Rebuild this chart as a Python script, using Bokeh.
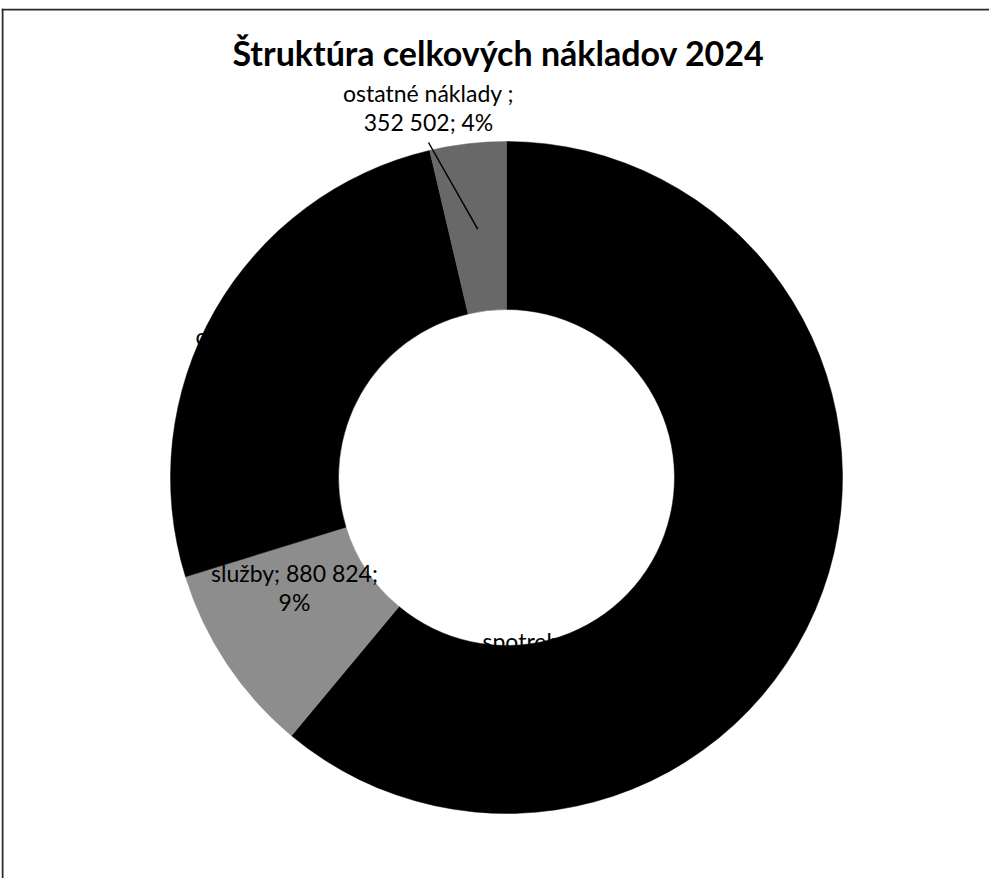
import math
from bokeh.plotting import figure
from bokeh.models import Range1d, Span, ColumnDataSource
from bokeh.core.properties import value
from bokeh.embed import file_html
from bokeh.resources import INLINE

# ---- data ----
title_text = "Štruktúra celkových nákladov 2024"
categories = ["spotreba materiálu a energie", "služby", "osobné náklady", "ostatné náklady "]
values = [5861000, 880824, 2506000, 352502]
colors = ["#000000", "#8d8d8d", "#000000", "#686868"]

# ---- derived ----
total = float(sum(values))
fracs = [v / total for v in values]
pcts = [round(f * 100) for f in fracs]


def fmt(v):
    return f"{v:,}".replace(",", " ")


# clockwise from 12 o'clock, as in the original
theta0, theta1 = [], []
acc = 0.0
for f in fracs:
    theta0.append(acc)
    acc += f * 2 * math.pi
    theta1.append(acc)
start_angle = [math.pi / 2 - t for t in theta1]
end_angle = [math.pi / 2 - t for t in theta0]

R_OUT = 336
R_IN = 168

# page geometry (pixel = data unit); donut centre at page (514, 485)
W, H = 989, 878
ML, MT = 1, 8
CX, CY = 514, 485
fx0, fy0 = 8 + ML, 8 + MT
fx1, fy1 = 8 + W, 8 + H

p = figure(width=W, height=H, output_backend="svg", toolbar_location=None,
           x_range=Range1d(fx0 - CX, fx1 - CX), y_range=Range1d(CY - fy1, CY - fy0),
           min_border_left=ML, min_border_top=MT, min_border_right=0, min_border_bottom=0)
p.axis.visible = False
p.grid.visible = False
p.outline_line_color = None
p.background_fill_color = "white"
p.border_fill_color = "white"

src = ColumnDataSource(dict(cat=categories, val=values, start=start_angle, end=end_angle, color=colors))
p.annular_wedge(x=0, y=0, inner_radius=R_IN, outer_radius=R_OUT,
                start_angle="start", end_angle="end", fill_color="color",
                line_color="color", line_width=0.5, source=src)

# frame lines (left & top visible in the scan)
p.add_layout(Span(location=fx0 - CX + 1, dimension="height", line_color="#2a2a2a", line_width=2))
p.add_layout(Span(location=CY - fy0 - 1, dimension="width", line_color="#2a2a2a", line_width=2))

FONT = value("Lato")

# title
p.text(x=[-8], y=[CY - 60], text=[title_text], text_font=FONT, text_font_size="34px",
       text_font_style="bold", text_align="center", text_baseline="middle", text_color="black")

# data labels: text built from the data, positions are layout
label_lines = {
    0: [f"{categories[0]};", f"{fmt(values[0])}; {pcts[0]}%"],
    1: [f"{categories[1]}; {fmt(values[1])};", f"{pcts[1]}%"],
    2: [f"{categories[2]};", f"{fmt(values[2])}; {pcts[2]}%"],
    3: [f"{categories[3]};", f"{fmt(values[3])}; {pcts[3]}%"],
}
# (page x, page y of first line centre, align)
label_layout = {
    0: (490, 648, "left"),
    1: (302, 580, "center"),
    2: (203, 343, "left"),
    3: (436, 100, "center"),
}
LINE_H = 29
for i, lines in label_lines.items():
    lx, ly, al = label_layout[i]
    xs = [lx - CX] * len(lines)
    ys = [CY - (ly + k * LINE_H) for k in range(len(lines))]
    p.text(x=xs, y=ys, text=lines, text_font=FONT, text_font_size="23px",
           text_align=al, text_baseline="middle", text_color="black")

# leader line for the outside label (ostatné náklady)
mid3 = (theta0[3] + theta1[3]) / 2
end_r = 250
p.segment(x0=[436 - CX], y0=[CY - 150],
          x1=[end_r * math.sin(mid3)], y1=[end_r * math.cos(mid3)],
          line_color="black", line_width=1.5)

open("out.html", "w").write(file_html(p, INLINE))
